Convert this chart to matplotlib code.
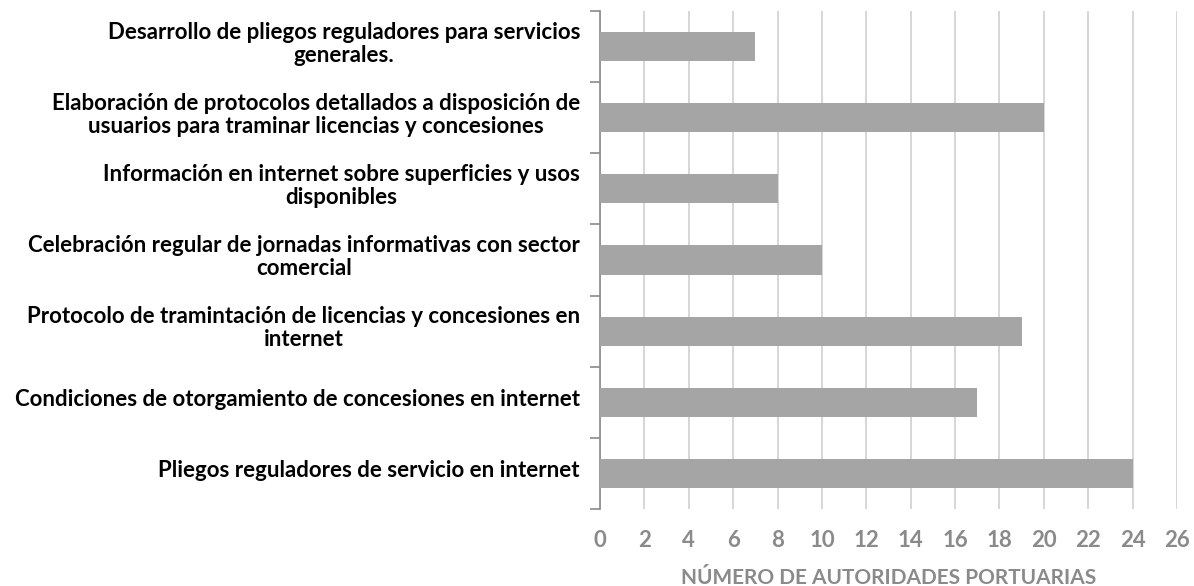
import matplotlib
matplotlib.use("Agg")
import matplotlib.pyplot as plt
import numpy as np

categories = [
    "Desarrollo de pliegos reguladores para servicios\ngenerales.",
    "Elaboración de protocolos detallados a disposición de\nusuarios para traminar licencias y concesiones",
    "Información en internet sobre superficies y usos\ndisponibles",
    "Celebración regular de jornadas informativas con sector\ncomercial",
    "Protocolo de tramintación de licencias y concesiones en\ninternet",
    "Condiciones de otorgamiento de concesiones en internet",
    "Pliegos reguladores de servicio en internet",
]
values = [7, 20, 8, 10, 19, 17, 24]
x_ticks = list(range(0, 27, 2))
x_label = "NÚMERO DE AUTORIDADES PORTUARIAS"

plt.rcParams["font.family"] = ["Lato", "DejaVu Sans"]
plt.rcParams["font.weight"] = "bold"

fig = plt.figure(figsize=(11.94, 5.86), dpi=100)
ax = fig.add_axes([600 / 1194, 1 - 509 / 586, 577 / 1194, 498 / 586])

n = len(categories)
y = np.arange(n)[::-1]
ax.barh(y, values, height=0.41, color="#a5a5a5", zorder=3)

ax.set_xlim(0, 26)
ax.set_ylim(-0.5, n - 0.5)
ax.set_xticks(x_ticks)
ax.set_xticklabels([str(t) for t in x_ticks])
ax.xaxis.grid(True, color="#cccccc", linewidth=1.1, zorder=0)
ax.tick_params(axis="x", length=0, pad=15, labelsize=16, labelcolor="#8a8a8a")

# category labels: lines centered within a right-aligned block
ax.set_yticks(y)
ax.set_yticklabels([])
ax.tick_params(axis="y", which="major", length=0)
ax.set_yticks(np.arange(-0.5, n, 1.0), minor=True)
ax.tick_params(axis="y", which="minor", length=7, width=1.2, color="#8a8a8a", direction="out")
for yi, lab in zip(y, categories):
    ax.annotate(lab, xy=(0, yi), xycoords=("axes fraction", "data"),
                xytext=(-20, 3), textcoords="offset pixels",
                ha="right", va="center", multialignment="center",
                fontsize=16, fontweight="bold", color="#000000",
                linespacing=1.12)

for s in ["top", "right", "bottom"]:
    ax.spines[s].set_visible(False)
ax.spines["left"].set_color("#8a8a8a")
ax.spines["left"].set_linewidth(1.2)

ax.set_xlabel(x_label, fontsize=15, fontweight="bold", color="#8a8a8a", labelpad=12)

fig.savefig("out.png", dpi=100)
